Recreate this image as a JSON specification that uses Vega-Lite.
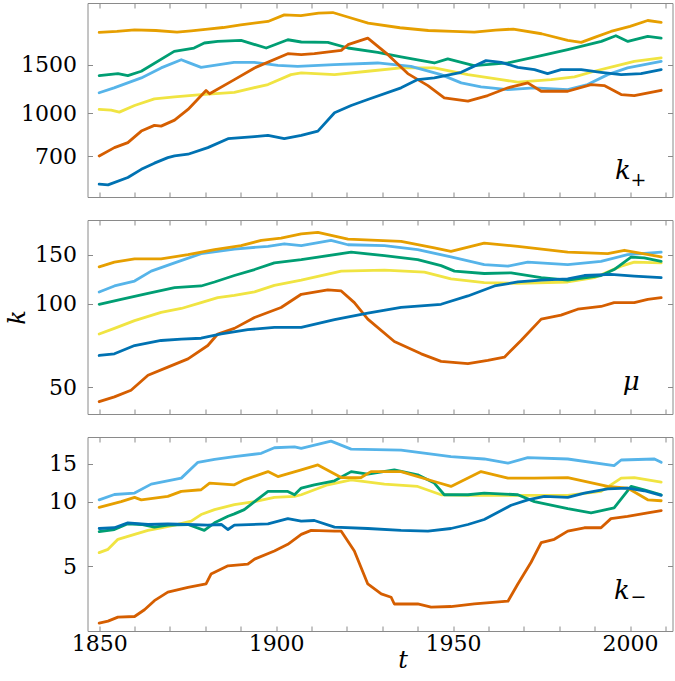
{
  "$schema": "https://vega.github.io/schema/vega-lite/v6.json",
  "padding": {"left": 4.5, "top": 2, "right": 3, "bottom": 0},
  "spacing": 21,
  "config": {
    "font": "DejaVu Serif",
    "view": {"stroke": "#8a8a8a", "strokeWidth": 1},
    "axis": {
      "domain": false, "grid": false, "tickSize": -5, "tickColor": "#8a8a8a", "tickWidth": 1,
      "labelFont": "DejaVu Serif", "labelFontSize": 22, "labelColor": "#000000",
      "labelOverlap": false, "labelFlush": false,
      "titleFont": "DejaVu Serif", "titleFontSize": 24, "titleFontStyle": "italic",
      "titleFontWeight": "normal", "titleColor": "#000000"
    }
  },
  "datasets": {
    "lines": [
      {"p":"kp","s":"Y","t":1850,"v":1034},{"p":"kp","s":"Y","t":1853.4,"v":1028},{"p":"kp","s":"Y","t":1855.7,"v":1011},{"p":"kp","s":"Y","t":1860,"v":1068},{"p":"kp","s":"Y","t":1865.6,"v":1129},{"p":"kp","s":"Y","t":1871.3,"v":1148},{"p":"kp","s":"Y","t":1878.8,"v":1170},{"p":"kp","s":"Y","t":1888.2,"v":1192},{"p":"kp","s":"Y","t":1897.7,"v":1271},{"p":"kp","s":"Y","t":1904.2,"v":1380},{"p":"kp","s":"Y","t":1907.1,"v":1400},{"p":"kp","s":"Y","t":1916.5,"v":1380},{"p":"kp","s":"Y","t":1925.9,"v":1419},{"p":"kp","s":"Y","t":1935.3,"v":1459},{"p":"kp","s":"Y","t":1944.7,"v":1459},{"p":"kp","s":"Y","t":1954.2,"v":1380},{"p":"kp","s":"Y","t":1963.6,"v":1324},{"p":"kp","s":"Y","t":1968.3,"v":1296},{"p":"kp","s":"Y","t":1977.7,"v":1324},{"p":"kp","s":"Y","t":1984.3,"v":1354},{"p":"kp","s":"Y","t":1989.9,"v":1419},{"p":"kp","s":"Y","t":1995.5,"v":1478},{"p":"kp","s":"Y","t":2001.2,"v":1541},{"p":"kp","s":"Y","t":2008.8,"v":1585},
      {"p":"kp","s":"S","t":1850,"v":1187},{"p":"kp","s":"S","t":1854.2,"v":1237},{"p":"kp","s":"S","t":1861.9,"v":1343},{"p":"kp","s":"S","t":1867.5,"v":1459},{"p":"kp","s":"S","t":1873.2,"v":1562},{"p":"kp","s":"S","t":1875.1,"v":1528},{"p":"kp","s":"S","t":1878.8,"v":1466},{"p":"kp","s":"S","t":1888.1,"v":1528},{"p":"kp","s":"S","t":1893.8,"v":1528},{"p":"kp","s":"S","t":1900.5,"v":1491},{"p":"kp","s":"S","t":1906.1,"v":1478},{"p":"kp","s":"S","t":1916.4,"v":1499},{"p":"kp","s":"S","t":1928.7,"v":1520},{"p":"kp","s":"S","t":1938.1,"v":1478},{"p":"kp","s":"S","t":1946.6,"v":1380},{"p":"kp","s":"S","t":1952.3,"v":1289},{"p":"kp","s":"S","t":1957.9,"v":1247},{"p":"kp","s":"S","t":1965.5,"v":1219},{"p":"kp","s":"S","t":1972.9,"v":1237},{"p":"kp","s":"S","t":1982.4,"v":1219},{"p":"kp","s":"S","t":1988,"v":1271},{"p":"kp","s":"S","t":1993.7,"v":1380},{"p":"kp","s":"S","t":1999.3,"v":1459},{"p":"kp","s":"S","t":2008.8,"v":1541},
      {"p":"kp","s":"G","t":1850,"v":1369},{"p":"kp","s":"G","t":1855.3,"v":1392},{"p":"kp","s":"G","t":1858.1,"v":1369},{"p":"kp","s":"G","t":1861.9,"v":1419},{"p":"kp","s":"G","t":1871.2,"v":1673},{"p":"kp","s":"G","t":1876.8,"v":1721},{"p":"kp","s":"G","t":1879.7,"v":1794},{"p":"kp","s":"G","t":1883.5,"v":1818},{"p":"kp","s":"G","t":1890.1,"v":1833},{"p":"kp","s":"G","t":1897.2,"v":1721},{"p":"kp","s":"G","t":1903.3,"v":1843},{"p":"kp","s":"G","t":1907.1,"v":1809},{"p":"kp","s":"G","t":1914.6,"v":1803},{"p":"kp","s":"G","t":1920.3,"v":1721},{"p":"kp","s":"G","t":1928.7,"v":1660},{"p":"kp","s":"G","t":1935.3,"v":1598},{"p":"kp","s":"G","t":1944.7,"v":1520},{"p":"kp","s":"G","t":1948.5,"v":1572},{"p":"kp","s":"G","t":1955.9,"v":1487},{"p":"kp","s":"G","t":1965.5,"v":1520},{"p":"kp","s":"G","t":1974.9,"v":1615},{"p":"kp","s":"G","t":1982.4,"v":1697},{"p":"kp","s":"G","t":1991.9,"v":1818},{"p":"kp","s":"G","t":1996,"v":1905},{"p":"kp","s":"G","t":1999.4,"v":1818},{"p":"kp","s":"G","t":2005,"v":1894},{"p":"kp","s":"G","t":2008.8,"v":1869},
      {"p":"kp","s":"O","t":1850,"v":1958},{"p":"kp","s":"O","t":1855,"v":1975},{"p":"kp","s":"O","t":1860,"v":2002},{"p":"kp","s":"O","t":1866,"v":1990},{"p":"kp","s":"O","t":1872,"v":1964},{"p":"kp","s":"O","t":1876,"v":1985},{"p":"kp","s":"O","t":1880.7,"v":2014},{"p":"kp","s":"O","t":1885,"v":2040},{"p":"kp","s":"O","t":1890,"v":2087},{"p":"kp","s":"O","t":1897.7,"v":2145},{"p":"kp","s":"O","t":1902.3,"v":2266},{"p":"kp","s":"O","t":1907,"v":2253},{"p":"kp","s":"O","t":1912,"v":2300},{"p":"kp","s":"O","t":1916,"v":2310},{"p":"kp","s":"O","t":1920,"v":2230},{"p":"kp","s":"O","t":1926,"v":2117},{"p":"kp","s":"O","t":1935,"v":2036},{"p":"kp","s":"O","t":1943,"v":1990},{"p":"kp","s":"O","t":1950,"v":1975},{"p":"kp","s":"O","t":1956,"v":1964},{"p":"kp","s":"O","t":1962,"v":1995},{"p":"kp","s":"O","t":1967,"v":2014},{"p":"kp","s":"O","t":1975,"v":1937},{"p":"kp","s":"O","t":1982.4,"v":1833},{"p":"kp","s":"O","t":1986.2,"v":1803},{"p":"kp","s":"O","t":1990,"v":1880},{"p":"kp","s":"O","t":1994.6,"v":1974},{"p":"kp","s":"O","t":2000,"v":2060},{"p":"kp","s":"O","t":2005,"v":2162},{"p":"kp","s":"O","t":2008.8,"v":2128},
      {"p":"kp","s":"V","t":1850,"v":703},{"p":"kp","s":"V","t":1854.3,"v":753},{"p":"kp","s":"V","t":1858.1,"v":785},{"p":"kp","s":"V","t":1861.9,"v":864},{"p":"kp","s":"V","t":1865.6,"v":906},{"p":"kp","s":"V","t":1867.5,"v":900},{"p":"kp","s":"V","t":1871.3,"v":946},{"p":"kp","s":"V","t":1875.1,"v":1034},{"p":"kp","s":"V","t":1880.2,"v":1209},{"p":"kp","s":"V","t":1881.2,"v":1177},{"p":"kp","s":"V","t":1888.2,"v":1324},{"p":"kp","s":"V","t":1893.9,"v":1459},{"p":"kp","s":"V","t":1903.3,"v":1642},{"p":"kp","s":"V","t":1907.1,"v":1628},{"p":"kp","s":"V","t":1910.8,"v":1642},{"p":"kp","s":"V","t":1918.4,"v":1687},{"p":"kp","s":"V","t":1920.3,"v":1769},{"p":"kp","s":"V","t":1925.9,"v":1869},{"p":"kp","s":"V","t":1931.6,"v":1628},{"p":"kp","s":"V","t":1937.2,"v":1392},{"p":"kp","s":"V","t":1942.9,"v":1260},{"p":"kp","s":"V","t":1947.5,"v":1139},{"p":"kp","s":"V","t":1954.2,"v":1107},{"p":"kp","s":"V","t":1959.8,"v":1160},{"p":"kp","s":"V","t":1965.5,"v":1237},{"p":"kp","s":"V","t":1971.1,"v":1289},{"p":"kp","s":"V","t":1974.9,"v":1202},{"p":"kp","s":"V","t":1982.4,"v":1202},{"p":"kp","s":"V","t":1989,"v":1271},{"p":"kp","s":"V","t":1992.7,"v":1260},{"p":"kp","s":"V","t":1997.5,"v":1170},{"p":"kp","s":"V","t":2001.2,"v":1160},{"p":"kp","s":"V","t":2008.8,"v":1212},
      {"p":"kp","s":"B","t":1850,"v":556},{"p":"kp","s":"B","t":1852.5,"v":553},{"p":"kp","s":"B","t":1858.1,"v":588},{"p":"kp","s":"B","t":1861.9,"v":629},{"p":"kp","s":"B","t":1865.6,"v":662},{"p":"kp","s":"B","t":1869.4,"v":693},{"p":"kp","s":"B","t":1871.3,"v":703},{"p":"kp","s":"B","t":1875.1,"v":713},{"p":"kp","s":"B","t":1880.7,"v":753},{"p":"kp","s":"B","t":1886.4,"v":811},{"p":"kp","s":"B","t":1893.9,"v":825},{"p":"kp","s":"B","t":1897.7,"v":834},{"p":"kp","s":"B","t":1902.3,"v":811},{"p":"kp","s":"B","t":1907.1,"v":834},{"p":"kp","s":"B","t":1911.8,"v":864},{"p":"kp","s":"B","t":1916.5,"v":1006},{"p":"kp","s":"B","t":1921.2,"v":1068},{"p":"kp","s":"B","t":1925.9,"v":1123},{"p":"kp","s":"B","t":1935.3,"v":1237},{"p":"kp","s":"B","t":1940,"v":1324},{"p":"kp","s":"B","t":1944.7,"v":1343},{"p":"kp","s":"B","t":1952.3,"v":1407},{"p":"kp","s":"B","t":1959.3,"v":1550},{"p":"kp","s":"B","t":1963.6,"v":1528},{"p":"kp","s":"B","t":1968.3,"v":1466},{"p":"kp","s":"B","t":1973,"v":1439},{"p":"kp","s":"B","t":1976.7,"v":1392},{"p":"kp","s":"B","t":1980.5,"v":1439},{"p":"kp","s":"B","t":1986.2,"v":1439},{"p":"kp","s":"B","t":1991.8,"v":1407},{"p":"kp","s":"B","t":1997.5,"v":1380},{"p":"kp","s":"B","t":2003.1,"v":1392},{"p":"kp","s":"B","t":2008.8,"v":1439},

      {"p":"mu","s":"Y","t":1850,"v":77.7},{"p":"mu","s":"Y","t":1854.3,"v":81.4},{"p":"mu","s":"Y","t":1860,"v":86.8},{"p":"mu","s":"Y","t":1867.5,"v":92.9},{"p":"mu","s":"Y","t":1873.2,"v":96},{"p":"mu","s":"Y","t":1878.8,"v":100.8},{"p":"mu","s":"Y","t":1883.5,"v":105},{"p":"mu","s":"Y","t":1888.2,"v":107},{"p":"mu","s":"Y","t":1893.9,"v":110.1},{"p":"mu","s":"Y","t":1899.5,"v":116.3},{"p":"mu","s":"Y","t":1907.1,"v":121.5},{"p":"mu","s":"Y","t":1918.4,"v":130.9},{"p":"mu","s":"Y","t":1930.6,"v":132},{"p":"mu","s":"Y","t":1941.9,"v":129.8},{"p":"mu","s":"Y","t":1949.4,"v":122.8},{"p":"mu","s":"Y","t":1958.8,"v":118.9},{"p":"mu","s":"Y","t":1968.3,"v":118.2},{"p":"mu","s":"Y","t":1982.4,"v":119.6},{"p":"mu","s":"Y","t":1989.9,"v":123.9},{"p":"mu","s":"Y","t":1997.5,"v":136.4},{"p":"mu","s":"Y","t":2001.2,"v":141},{"p":"mu","s":"Y","t":2008.8,"v":140.1},
      {"p":"mu","s":"S","t":1850,"v":110.1},{"p":"mu","s":"S","t":1854.3,"v":115.7},{"p":"mu","s":"S","t":1860,"v":120.5},{"p":"mu","s":"S","t":1864.7,"v":130.9},{"p":"mu","s":"S","t":1871.3,"v":140.1},{"p":"mu","s":"S","t":1878.8,"v":151.3},{"p":"mu","s":"S","t":1888.2,"v":157.2},{"p":"mu","s":"S","t":1897.7,"v":160.8},{"p":"mu","s":"S","t":1902.3,"v":164.2},{"p":"mu","s":"S","t":1907.1,"v":161.6},{"p":"mu","s":"S","t":1915.5,"v":168.9},{"p":"mu","s":"S","t":1920.3,"v":162.9},{"p":"mu","s":"S","t":1930.6,"v":161.6},{"p":"mu","s":"S","t":1940,"v":156.4},{"p":"mu","s":"S","t":1949.4,"v":147.2},{"p":"mu","s":"S","t":1958.8,"v":138.2},{"p":"mu","s":"S","t":1965.5,"v":136.4},{"p":"mu","s":"S","t":1971.1,"v":141},{"p":"mu","s":"S","t":1982.4,"v":138.2},{"p":"mu","s":"S","t":1991.8,"v":142},{"p":"mu","s":"S","t":1999.3,"v":150},{"p":"mu","s":"S","t":2008.8,"v":153.1},
      {"p":"mu","s":"G","t":1850,"v":99.4},{"p":"mu","s":"G","t":1856.2,"v":103.6},{"p":"mu","s":"G","t":1863.8,"v":108.8},{"p":"mu","s":"G","t":1871.3,"v":114.1},{"p":"mu","s":"G","t":1878.8,"v":115.7},{"p":"mu","s":"G","t":1882.6,"v":119.6},{"p":"mu","s":"G","t":1888.2,"v":126.2},{"p":"mu","s":"G","t":1893.9,"v":132.6},{"p":"mu","s":"G","t":1899.5,"v":140.1},{"p":"mu","s":"G","t":1907.1,"v":144},{"p":"mu","s":"G","t":1921.2,"v":153.1},{"p":"mu","s":"G","t":1930.6,"v":148.8},{"p":"mu","s":"G","t":1940,"v":144},{"p":"mu","s":"G","t":1946.6,"v":137},{"p":"mu","s":"G","t":1950.4,"v":130.9},{"p":"mu","s":"G","t":1958.8,"v":128.3},{"p":"mu","s":"G","t":1966.4,"v":129},{"p":"mu","s":"G","t":1974.9,"v":123.9},{"p":"mu","s":"G","t":1982.4,"v":121.5},{"p":"mu","s":"G","t":1991.8,"v":126.2},{"p":"mu","s":"G","t":1995.5,"v":132.6},{"p":"mu","s":"G","t":2000.3,"v":146.9},{"p":"mu","s":"G","t":2004,"v":146},{"p":"mu","s":"G","t":2008.8,"v":142},
      {"p":"mu","s":"O","t":1850,"v":135.6},{"p":"mu","s":"O","t":1854.3,"v":141},{"p":"mu","s":"O","t":1860,"v":144.8},{"p":"mu","s":"O","t":1867.5,"v":144.8},{"p":"mu","s":"O","t":1875.1,"v":150},{"p":"mu","s":"O","t":1882.6,"v":156.4},{"p":"mu","s":"O","t":1890.1,"v":161.6},{"p":"mu","s":"O","t":1895.8,"v":168.9},{"p":"mu","s":"O","t":1901.4,"v":172.1},{"p":"mu","s":"O","t":1907.1,"v":178.4},{"p":"mu","s":"O","t":1911.8,"v":180.4},{"p":"mu","s":"O","t":1920.3,"v":170.7},{"p":"mu","s":"O","t":1935.3,"v":167.5},{"p":"mu","s":"O","t":1944.7,"v":158.6},{"p":"mu","s":"O","t":1949.4,"v":154.3},{"p":"mu","s":"O","t":1958.8,"v":165.2},{"p":"mu","s":"O","t":1968.3,"v":160.8},{"p":"mu","s":"O","t":1982.4,"v":153.1},{"p":"mu","s":"O","t":1993.7,"v":151.3},{"p":"mu","s":"O","t":1998.4,"v":155.6},{"p":"mu","s":"O","t":2008.8,"v":147.2},
      {"p":"mu","s":"V","t":1850,"v":44.3},{"p":"mu","s":"V","t":1854.3,"v":46.1},{"p":"mu","s":"V","t":1859,"v":48.7},{"p":"mu","s":"V","t":1863.8,"v":55.2},{"p":"mu","s":"V","t":1869.4,"v":59},{"p":"mu","s":"V","t":1875.1,"v":63.2},{"p":"mu","s":"V","t":1880.7,"v":70.6},{"p":"mu","s":"V","t":1883.5,"v":77.7},{"p":"mu","s":"V","t":1888.2,"v":81.4},{"p":"mu","s":"V","t":1893.9,"v":89.1},{"p":"mu","s":"V","t":1901.4,"v":96.8},{"p":"mu","s":"V","t":1907.1,"v":108},{"p":"mu","s":"V","t":1914.6,"v":112},{"p":"mu","s":"V","t":1918.4,"v":111},{"p":"mu","s":"V","t":1922.1,"v":100.8},{"p":"mu","s":"V","t":1925.9,"v":87.9},{"p":"mu","s":"V","t":1933.4,"v":73},{"p":"mu","s":"V","t":1941,"v":65.9},{"p":"mu","s":"V","t":1946.6,"v":61.9},{"p":"mu","s":"V","t":1954.2,"v":60.7},{"p":"mu","s":"V","t":1959.8,"v":62.4},{"p":"mu","s":"V","t":1964.5,"v":64.1},{"p":"mu","s":"V","t":1969.2,"v":73.6},{"p":"mu","s":"V","t":1974.9,"v":87.9},{"p":"mu","s":"V","t":1980.5,"v":90.8},{"p":"mu","s":"V","t":1985.2,"v":95.4},{"p":"mu","s":"V","t":1991.8,"v":97.6},{"p":"mu","s":"V","t":1995.5,"v":100.8},{"p":"mu","s":"V","t":2001.2,"v":100.8},{"p":"mu","s":"V","t":2005,"v":103.6},{"p":"mu","s":"V","t":2008.8,"v":105},
      {"p":"mu","s":"B","t":1850,"v":65},{"p":"mu","s":"B","t":1854.3,"v":65.9},{"p":"mu","s":"B","t":1860,"v":70.6},{"p":"mu","s":"B","t":1867.5,"v":73.6},{"p":"mu","s":"B","t":1873.2,"v":74.5},{"p":"mu","s":"B","t":1878.8,"v":75},{"p":"mu","s":"B","t":1884.5,"v":77.7},{"p":"mu","s":"B","t":1892,"v":80.5},{"p":"mu","s":"B","t":1899.5,"v":82},{"p":"mu","s":"B","t":1907.1,"v":82},{"p":"mu","s":"B","t":1916.5,"v":87.5},{"p":"mu","s":"B","t":1925.9,"v":92.3},{"p":"mu","s":"B","t":1935.3,"v":96.8},{"p":"mu","s":"B","t":1946.6,"v":99.4},{"p":"mu","s":"B","t":1954.2,"v":106.5},{"p":"mu","s":"B","t":1961.7,"v":115.7},{"p":"mu","s":"B","t":1968.3,"v":119.6},{"p":"mu","s":"B","t":1974.9,"v":121.5},{"p":"mu","s":"B","t":1982.4,"v":122.8},{"p":"mu","s":"B","t":1987.1,"v":126.2},{"p":"mu","s":"B","t":1994.6,"v":127.3},{"p":"mu","s":"B","t":2001.2,"v":125.6},{"p":"mu","s":"B","t":2008.8,"v":123.9},

      {"p":"km","s":"Y","t":1850,"v":5.79},{"p":"km","s":"Y","t":1852.5,"v":6},{"p":"km","s":"Y","t":1855.3,"v":6.68},{"p":"km","s":"Y","t":1860,"v":7.04},{"p":"km","s":"Y","t":1863.8,"v":7.35},{"p":"km","s":"Y","t":1867.5,"v":7.56},{"p":"km","s":"Y","t":1871.3,"v":7.77},{"p":"km","s":"Y","t":1876,"v":8.11},{"p":"km","s":"Y","t":1878.8,"v":8.71},{"p":"km","s":"Y","t":1882.6,"v":9.18},{"p":"km","s":"Y","t":1888.2,"v":9.69},{"p":"km","s":"Y","t":1893.9,"v":10},{"p":"km","s":"Y","t":1899.5,"v":10.47},{"p":"km","s":"Y","t":1905.2,"v":10.58},{"p":"km","s":"Y","t":1907.1,"v":10.77},{"p":"km","s":"Y","t":1914.6,"v":11.98},{"p":"km","s":"Y","t":1921.2,"v":12.64},{"p":"km","s":"Y","t":1930.6,"v":12.07},{"p":"km","s":"Y","t":1940,"v":11.77},{"p":"km","s":"Y","t":1946.6,"v":10.77},{"p":"km","s":"Y","t":1954.2,"v":10.69},{"p":"km","s":"Y","t":1963.6,"v":10.69},{"p":"km","s":"Y","t":1973,"v":10.69},{"p":"km","s":"Y","t":1982.4,"v":10.69},{"p":"km","s":"Y","t":1991.8,"v":11.16},{"p":"km","s":"Y","t":1997.5,"v":12.87},{"p":"km","s":"Y","t":2001.2,"v":12.95},{"p":"km","s":"Y","t":2008.8,"v":12.33},
      {"p":"km","s":"S","t":1850,"v":10.2},{"p":"km","s":"S","t":1854.3,"v":10.8},{"p":"km","s":"S","t":1860,"v":10.97},{"p":"km","s":"S","t":1864.7,"v":12.07},{"p":"km","s":"S","t":1873.2,"v":12.87},{"p":"km","s":"S","t":1877.9,"v":15.25},{"p":"km","s":"S","t":1882.6,"v":15.75},{"p":"km","s":"S","t":1888.2,"v":16.19},{"p":"km","s":"S","t":1895.8,"v":16.79},{"p":"km","s":"S","t":1899.5,"v":17.82},{"p":"km","s":"S","t":1905.2,"v":18},{"p":"km","s":"S","t":1907.1,"v":17.7},{"p":"km","s":"S","t":1915.5,"v":19.13},{"p":"km","s":"S","t":1921.2,"v":17.57},{"p":"km","s":"S","t":1935.3,"v":17.39},{"p":"km","s":"S","t":1949.4,"v":16.19},{"p":"km","s":"S","t":1958.8,"v":15.8},{"p":"km","s":"S","t":1965.5,"v":15.1},{"p":"km","s":"S","t":1971.1,"v":16.02},{"p":"km","s":"S","t":1982.4,"v":15.8},{"p":"km","s":"S","t":1995.5,"v":14.71},{"p":"km","s":"S","t":1997.5,"v":15.63},{"p":"km","s":"S","t":2006.9,"v":15.8},{"p":"km","s":"S","t":2008.8,"v":15.25},
      {"p":"km","s":"G","t":1850,"v":7.25},{"p":"km","s":"G","t":1854.3,"v":7.42},{"p":"km","s":"G","t":1858.1,"v":7.89},{"p":"km","s":"G","t":1861.9,"v":7.83},{"p":"km","s":"G","t":1865.6,"v":7.61},{"p":"km","s":"G","t":1869.4,"v":7.77},{"p":"km","s":"G","t":1875.1,"v":7.83},{"p":"km","s":"G","t":1879.7,"v":7.35},{"p":"km","s":"G","t":1882.6,"v":7.97},{"p":"km","s":"G","t":1886.4,"v":8.55},{"p":"km","s":"G","t":1888.2,"v":8.77},{"p":"km","s":"G","t":1891,"v":9.18},{"p":"km","s":"G","t":1893.9,"v":10},{"p":"km","s":"G","t":1897.7,"v":11.16},{"p":"km","s":"G","t":1903.3,"v":11.16},{"p":"km","s":"G","t":1905.2,"v":10.77},{"p":"km","s":"G","t":1907.1,"v":11.57},{"p":"km","s":"G","t":1910.8,"v":11.98},{"p":"km","s":"G","t":1916.5,"v":12.5},{"p":"km","s":"G","t":1921.2,"v":13.8},{"p":"km","s":"G","t":1925.9,"v":13.43},{"p":"km","s":"G","t":1933.4,"v":14.05},{"p":"km","s":"G","t":1940,"v":13.33},{"p":"km","s":"G","t":1944.7,"v":12.2},{"p":"km","s":"G","t":1947.5,"v":10.77},{"p":"km","s":"G","t":1954.2,"v":10.77},{"p":"km","s":"G","t":1958.8,"v":10.97},{"p":"km","s":"G","t":1968.3,"v":10.77},{"p":"km","s":"G","t":1973,"v":10},{"p":"km","s":"G","t":1982.4,"v":9.28},{"p":"km","s":"G","t":1989,"v":8.87},{"p":"km","s":"G","t":1995.5,"v":9.35},{"p":"km","s":"G","t":2000.3,"v":11.77},{"p":"km","s":"G","t":2004,"v":11.36},{"p":"km","s":"G","t":2008.8,"v":10.77},
      {"p":"km","s":"O","t":1850,"v":9.41},{"p":"km","s":"O","t":1856.2,"v":10},{"p":"km","s":"O","t":1860,"v":10.47},{"p":"km","s":"O","t":1861.9,"v":10.2},{"p":"km","s":"O","t":1869.4,"v":10.58},{"p":"km","s":"O","t":1873.2,"v":11.16},{"p":"km","s":"O","t":1878.8,"v":11.36},{"p":"km","s":"O","t":1881.2,"v":12.2},{"p":"km","s":"O","t":1888.2,"v":11.98},{"p":"km","s":"O","t":1891,"v":12.64},{"p":"km","s":"O","t":1897.7,"v":13.8},{"p":"km","s":"O","t":1900.5,"v":13.09},{"p":"km","s":"O","t":1907.1,"v":14.05},{"p":"km","s":"O","t":1911.8,"v":14.82},{"p":"km","s":"O","t":1918.4,"v":12.95},{"p":"km","s":"O","t":1924,"v":12.95},{"p":"km","s":"O","t":1926.8,"v":13.8},{"p":"km","s":"O","t":1935.3,"v":13.8},{"p":"km","s":"O","t":1944.7,"v":12.41},{"p":"km","s":"O","t":1949.4,"v":11.77},{"p":"km","s":"O","t":1957.9,"v":13.8},{"p":"km","s":"O","t":1965.5,"v":12.87},{"p":"km","s":"O","t":1973,"v":12.87},{"p":"km","s":"O","t":1982.4,"v":12.95},{"p":"km","s":"O","t":1993.7,"v":11.77},{"p":"km","s":"O","t":1999.3,"v":11.57},{"p":"km","s":"O","t":2005,"v":10.2},{"p":"km","s":"O","t":2008.8,"v":10.1},
      {"p":"km","s":"V","t":1850,"v":2.72},{"p":"km","s":"V","t":1852.5,"v":2.78},{"p":"km","s":"V","t":1855.3,"v":2.9},{"p":"km","s":"V","t":1860,"v":2.92},{"p":"km","s":"V","t":1862.8,"v":3.14},{"p":"km","s":"V","t":1865.6,"v":3.46},{"p":"km","s":"V","t":1869.4,"v":3.79},{"p":"km","s":"V","t":1875.1,"v":3.99},{"p":"km","s":"V","t":1880.2,"v":4.14},{"p":"km","s":"V","t":1881.6,"v":4.6},{"p":"km","s":"V","t":1886.4,"v":5.03},{"p":"km","s":"V","t":1892,"v":5.12},{"p":"km","s":"V","t":1893.9,"v":5.4},{"p":"km","s":"V","t":1899.5,"v":5.89},{"p":"km","s":"V","t":1903.3,"v":6.33},{"p":"km","s":"V","t":1907.1,"v":7.04},{"p":"km","s":"V","t":1909.9,"v":7.35},{"p":"km","s":"V","t":1916.5,"v":7.29},{"p":"km","s":"V","t":1918.4,"v":7.29},{"p":"km","s":"V","t":1922.1,"v":5.89},{"p":"km","s":"V","t":1925.9,"v":4.14},{"p":"km","s":"V","t":1929.7,"v":3.72},{"p":"km","s":"V","t":1932.5,"v":3.59},{"p":"km","s":"V","t":1933.4,"v":3.34},{"p":"km","s":"V","t":1940,"v":3.34},{"p":"km","s":"V","t":1943.8,"v":3.23},{"p":"km","s":"V","t":1949.4,"v":3.25},{"p":"km","s":"V","t":1956,"v":3.34},{"p":"km","s":"V","t":1965.5,"v":3.44},{"p":"km","s":"V","t":1968.3,"v":4.14},{"p":"km","s":"V","t":1972,"v":5.21},{"p":"km","s":"V","t":1974.9,"v":6.45},{"p":"km","s":"V","t":1978.6,"v":6.68},{"p":"km","s":"V","t":1982.4,"v":7.29},{"p":"km","s":"V","t":1987.1,"v":7.56},{"p":"km","s":"V","t":1991.8,"v":7.56},{"p":"km","s":"V","t":1994.6,"v":8.34},{"p":"km","s":"V","t":1999.3,"v":8.55},{"p":"km","s":"V","t":2005,"v":8.87},{"p":"km","s":"V","t":2008.8,"v":9.09},
      {"p":"km","s":"B","t":1850,"v":7.5},{"p":"km","s":"B","t":1854.3,"v":7.56},{"p":"km","s":"B","t":1858.1,"v":7.97},{"p":"km","s":"B","t":1863.8,"v":7.83},{"p":"km","s":"B","t":1869.4,"v":7.89},{"p":"km","s":"B","t":1875.1,"v":7.83},{"p":"km","s":"B","t":1880.7,"v":7.77},{"p":"km","s":"B","t":1884.5,"v":7.83},{"p":"km","s":"B","t":1886.4,"v":7.42},{"p":"km","s":"B","t":1888.2,"v":7.77},{"p":"km","s":"B","t":1897.7,"v":7.89},{"p":"km","s":"B","t":1903.3,"v":8.34},{"p":"km","s":"B","t":1907.1,"v":8.11},{"p":"km","s":"B","t":1910.8,"v":8.17},{"p":"km","s":"B","t":1916.5,"v":7.61},{"p":"km","s":"B","t":1925.9,"v":7.5},{"p":"km","s":"B","t":1935.3,"v":7.35},{"p":"km","s":"B","t":1942.9,"v":7.29},{"p":"km","s":"B","t":1949.4,"v":7.5},{"p":"km","s":"B","t":1954.2,"v":7.83},{"p":"km","s":"B","t":1958.8,"v":8.26},{"p":"km","s":"B","t":1966.4,"v":9.62},{"p":"km","s":"B","t":1971.1,"v":10.2},{"p":"km","s":"B","t":1975.8,"v":10.58},{"p":"km","s":"B","t":1982.4,"v":10.47},{"p":"km","s":"B","t":1987.1,"v":10.97},{"p":"km","s":"B","t":1993.7,"v":11.48},{"p":"km","s":"B","t":1999.3,"v":11.57},{"p":"km","s":"B","t":2004,"v":11.24},{"p":"km","s":"B","t":2008.8,"v":10.69}
    ],
    "labels": [
      {"p":"kp","t":1998,"v":580,"txt":"k"},
      {"p":"mu","t":2000.3,"v":48.9,"txt":"μ"},
      {"p":"km","t":1997.7,"v":3.52,"txt":"k"}
    ],
    "subs": [
      {"p":"kp","t":2002.4,"v":550,"txt":"+"},
      {"p":"km","t":2002.4,"v":3.39,"txt":"−"}
    ]
  },
  "vconcat": [
    {
      "width": 585, "height": 194,
      "layer": [
        {
          "data": {"name": "lines"},
          "transform": [{"filter": "datum.p === 'kp'"}],
          "mark": {"type": "line", "strokeWidth": 2.8, "strokeJoin": "round", "strokeCap": "round"},
          "encoding": {
            "x": {"field": "t", "type": "quantitative", "scale": {"domain": [1846.7, 2012.0], "nice": false, "zero": false},
                  "axis": {"orient": "bottom", "values": [1850,1860,1870,1880,1890,1900,1910,1920,1930,1940,1950,1960,1970,1980,1990,2000,2010], "labels": false, "title": null}},
            "y": {"field": "v", "type": "quantitative", "scale": {"type": "log", "domain": [500, 2500], "nice": false},
                  "axis": {"orient": "left", "values": [700, 1000, 1500], "format": "d", "labelPadding": 16, "title": null}},
            "color": {"field": "s", "type": "nominal", "scale": {"domain": ["Y","S","G","O","V","B"], "range": ["#F0E442","#56B4E9","#009E73","#E69F00","#D55E00","#0072B2"]}, "legend": null}
          }
        },
        {
          "data": {"name": "labels"},
          "transform": [{"filter": "datum.p === 'kp'"}],
          "mark": {"type": "text", "font": "DejaVu Serif", "fontStyle": "italic", "fontSize": 26, "align": "center", "baseline": "alphabetic", "color": "#000000"},
          "encoding": {
            "x": {"field": "t", "type": "quantitative", "scale": {"domain": [1846.7, 2012.0], "nice": false, "zero": false},
                  "axis": {"orient": "top", "values": [1850,1860,1870,1880,1890,1900,1910,1920,1930,1940,1950,1960,1970,1980,1990,2000,2010], "labels": false, "title": null}},
            "y": {"field": "v", "type": "quantitative", "scale": {"type": "log", "domain": [500, 2500], "nice": false},
                  "axis": {"orient": "right", "values": [700, 1000, 1500], "labels": false, "title": null}},
            "text": {"field": "txt"}
          }
        },
        {
          "data": {"name": "subs"},
          "transform": [{"filter": "datum.p === 'kp'"}],
          "mark": {"type": "text", "font": "DejaVu Serif", "fontSize": 19, "align": "center", "baseline": "alphabetic", "color": "#000000"},
          "encoding": {
            "x": {"field": "t", "type": "quantitative", "scale": {"domain": [1846.7, 2012.0], "nice": false, "zero": false}, "axis": null},
            "y": {"field": "v", "type": "quantitative", "scale": {"type": "log", "domain": [500, 2500], "nice": false}, "axis": null},
            "text": {"field": "txt"}
          }
        }
      ],
      "resolve": {"scale": {"x": "independent", "y": "independent"}}
    },
    {
      "width": 585, "height": 194,
      "layer": [
        {
          "data": {"name": "lines"},
          "transform": [{"filter": "datum.p === 'mu'"}],
          "mark": {"type": "line", "strokeWidth": 2.8, "strokeJoin": "round", "strokeCap": "round"},
          "encoding": {
            "x": {"field": "t", "type": "quantitative", "scale": {"domain": [1846.7, 2012.0], "nice": false, "zero": false},
                  "axis": {"orient": "bottom", "values": [1850,1860,1870,1880,1890,1900,1910,1920,1930,1940,1950,1960,1970,1980,1990,2000,2010], "labels": false, "title": null}},
            "y": {"field": "v", "type": "quantitative", "scale": {"type": "log", "domain": [40, 200], "nice": false},
                  "axis": {"orient": "left", "values": [50, 100, 150], "format": "d", "labelPadding": 16, "title": "k", "titlePadding": 5}},
            "color": {"field": "s", "type": "nominal", "scale": {"domain": ["Y","S","G","O","V","B"], "range": ["#F0E442","#56B4E9","#009E73","#E69F00","#D55E00","#0072B2"]}, "legend": null}
          }
        },
        {
          "data": {"name": "labels"},
          "transform": [{"filter": "datum.p === 'mu'"}],
          "mark": {"type": "text", "font": "DejaVu Serif", "fontStyle": "italic", "fontSize": 26, "align": "center", "baseline": "alphabetic", "color": "#000000"},
          "encoding": {
            "x": {"field": "t", "type": "quantitative", "scale": {"domain": [1846.7, 2012.0], "nice": false, "zero": false},
                  "axis": {"orient": "top", "values": [1850,1860,1870,1880,1890,1900,1910,1920,1930,1940,1950,1960,1970,1980,1990,2000,2010], "labels": false, "title": null}},
            "y": {"field": "v", "type": "quantitative", "scale": {"type": "log", "domain": [40, 200], "nice": false},
                  "axis": {"orient": "right", "values": [50, 100, 150], "labels": false, "title": null}},
            "text": {"field": "txt"}
          }
        }
      ],
      "resolve": {"scale": {"x": "independent", "y": "independent"}}
    },
    {
      "width": 585, "height": 194,
      "layer": [
        {
          "data": {"name": "lines"},
          "transform": [{"filter": "datum.p === 'km'"}],
          "mark": {"type": "line", "strokeWidth": 2.8, "strokeJoin": "round", "strokeCap": "round"},
          "encoding": {
            "x": {"field": "t", "type": "quantitative", "scale": {"domain": [1846.7, 2012.0], "nice": false, "zero": false},
                  "axis": {"orient": "bottom", "values": [1850,1860,1870,1880,1890,1900,1910,1920,1930,1940,1950,1960,1970,1980,1990,2000,2010], "format": "d", "labelExpr": "datum.value % 50 === 0 ? datum.label : ''", "labelPadding": 7, "title": "t", "titlePadding": -6, "titleX": 315}},
            "y": {"field": "v", "type": "quantitative", "scale": {"type": "log", "domain": [2.5, 20], "nice": false},
                  "axis": {"orient": "left", "values": [5, 10, 15], "format": "d", "labelPadding": 16, "title": null}},
            "color": {"field": "s", "type": "nominal", "scale": {"domain": ["Y","S","G","O","V","B"], "range": ["#F0E442","#56B4E9","#009E73","#E69F00","#D55E00","#0072B2"]}, "legend": null}
          }
        },
        {
          "data": {"name": "labels"},
          "transform": [{"filter": "datum.p === 'km'"}],
          "mark": {"type": "text", "font": "DejaVu Serif", "fontStyle": "italic", "fontSize": 26, "align": "center", "baseline": "alphabetic", "color": "#000000"},
          "encoding": {
            "x": {"field": "t", "type": "quantitative", "scale": {"domain": [1846.7, 2012.0], "nice": false, "zero": false},
                  "axis": {"orient": "top", "values": [1850,1860,1870,1880,1890,1900,1910,1920,1930,1940,1950,1960,1970,1980,1990,2000,2010], "labels": false, "title": null}},
            "y": {"field": "v", "type": "quantitative", "scale": {"type": "log", "domain": [2.5, 20], "nice": false},
                  "axis": {"orient": "right", "values": [5, 10, 15], "labels": false, "title": null}},
            "text": {"field": "txt"}
          }
        },
        {
          "data": {"name": "subs"},
          "transform": [{"filter": "datum.p === 'km'"}],
          "mark": {"type": "text", "font": "DejaVu Serif", "fontSize": 19, "align": "center", "baseline": "alphabetic", "color": "#000000"},
          "encoding": {
            "x": {"field": "t", "type": "quantitative", "scale": {"domain": [1846.7, 2012.0], "nice": false, "zero": false}, "axis": null},
            "y": {"field": "v", "type": "quantitative", "scale": {"type": "log", "domain": [2.5, 20], "nice": false}, "axis": null},
            "text": {"field": "txt"}
          }
        }
      ],
      "resolve": {"scale": {"x": "independent", "y": "independent"}}
    }
  ]
}
